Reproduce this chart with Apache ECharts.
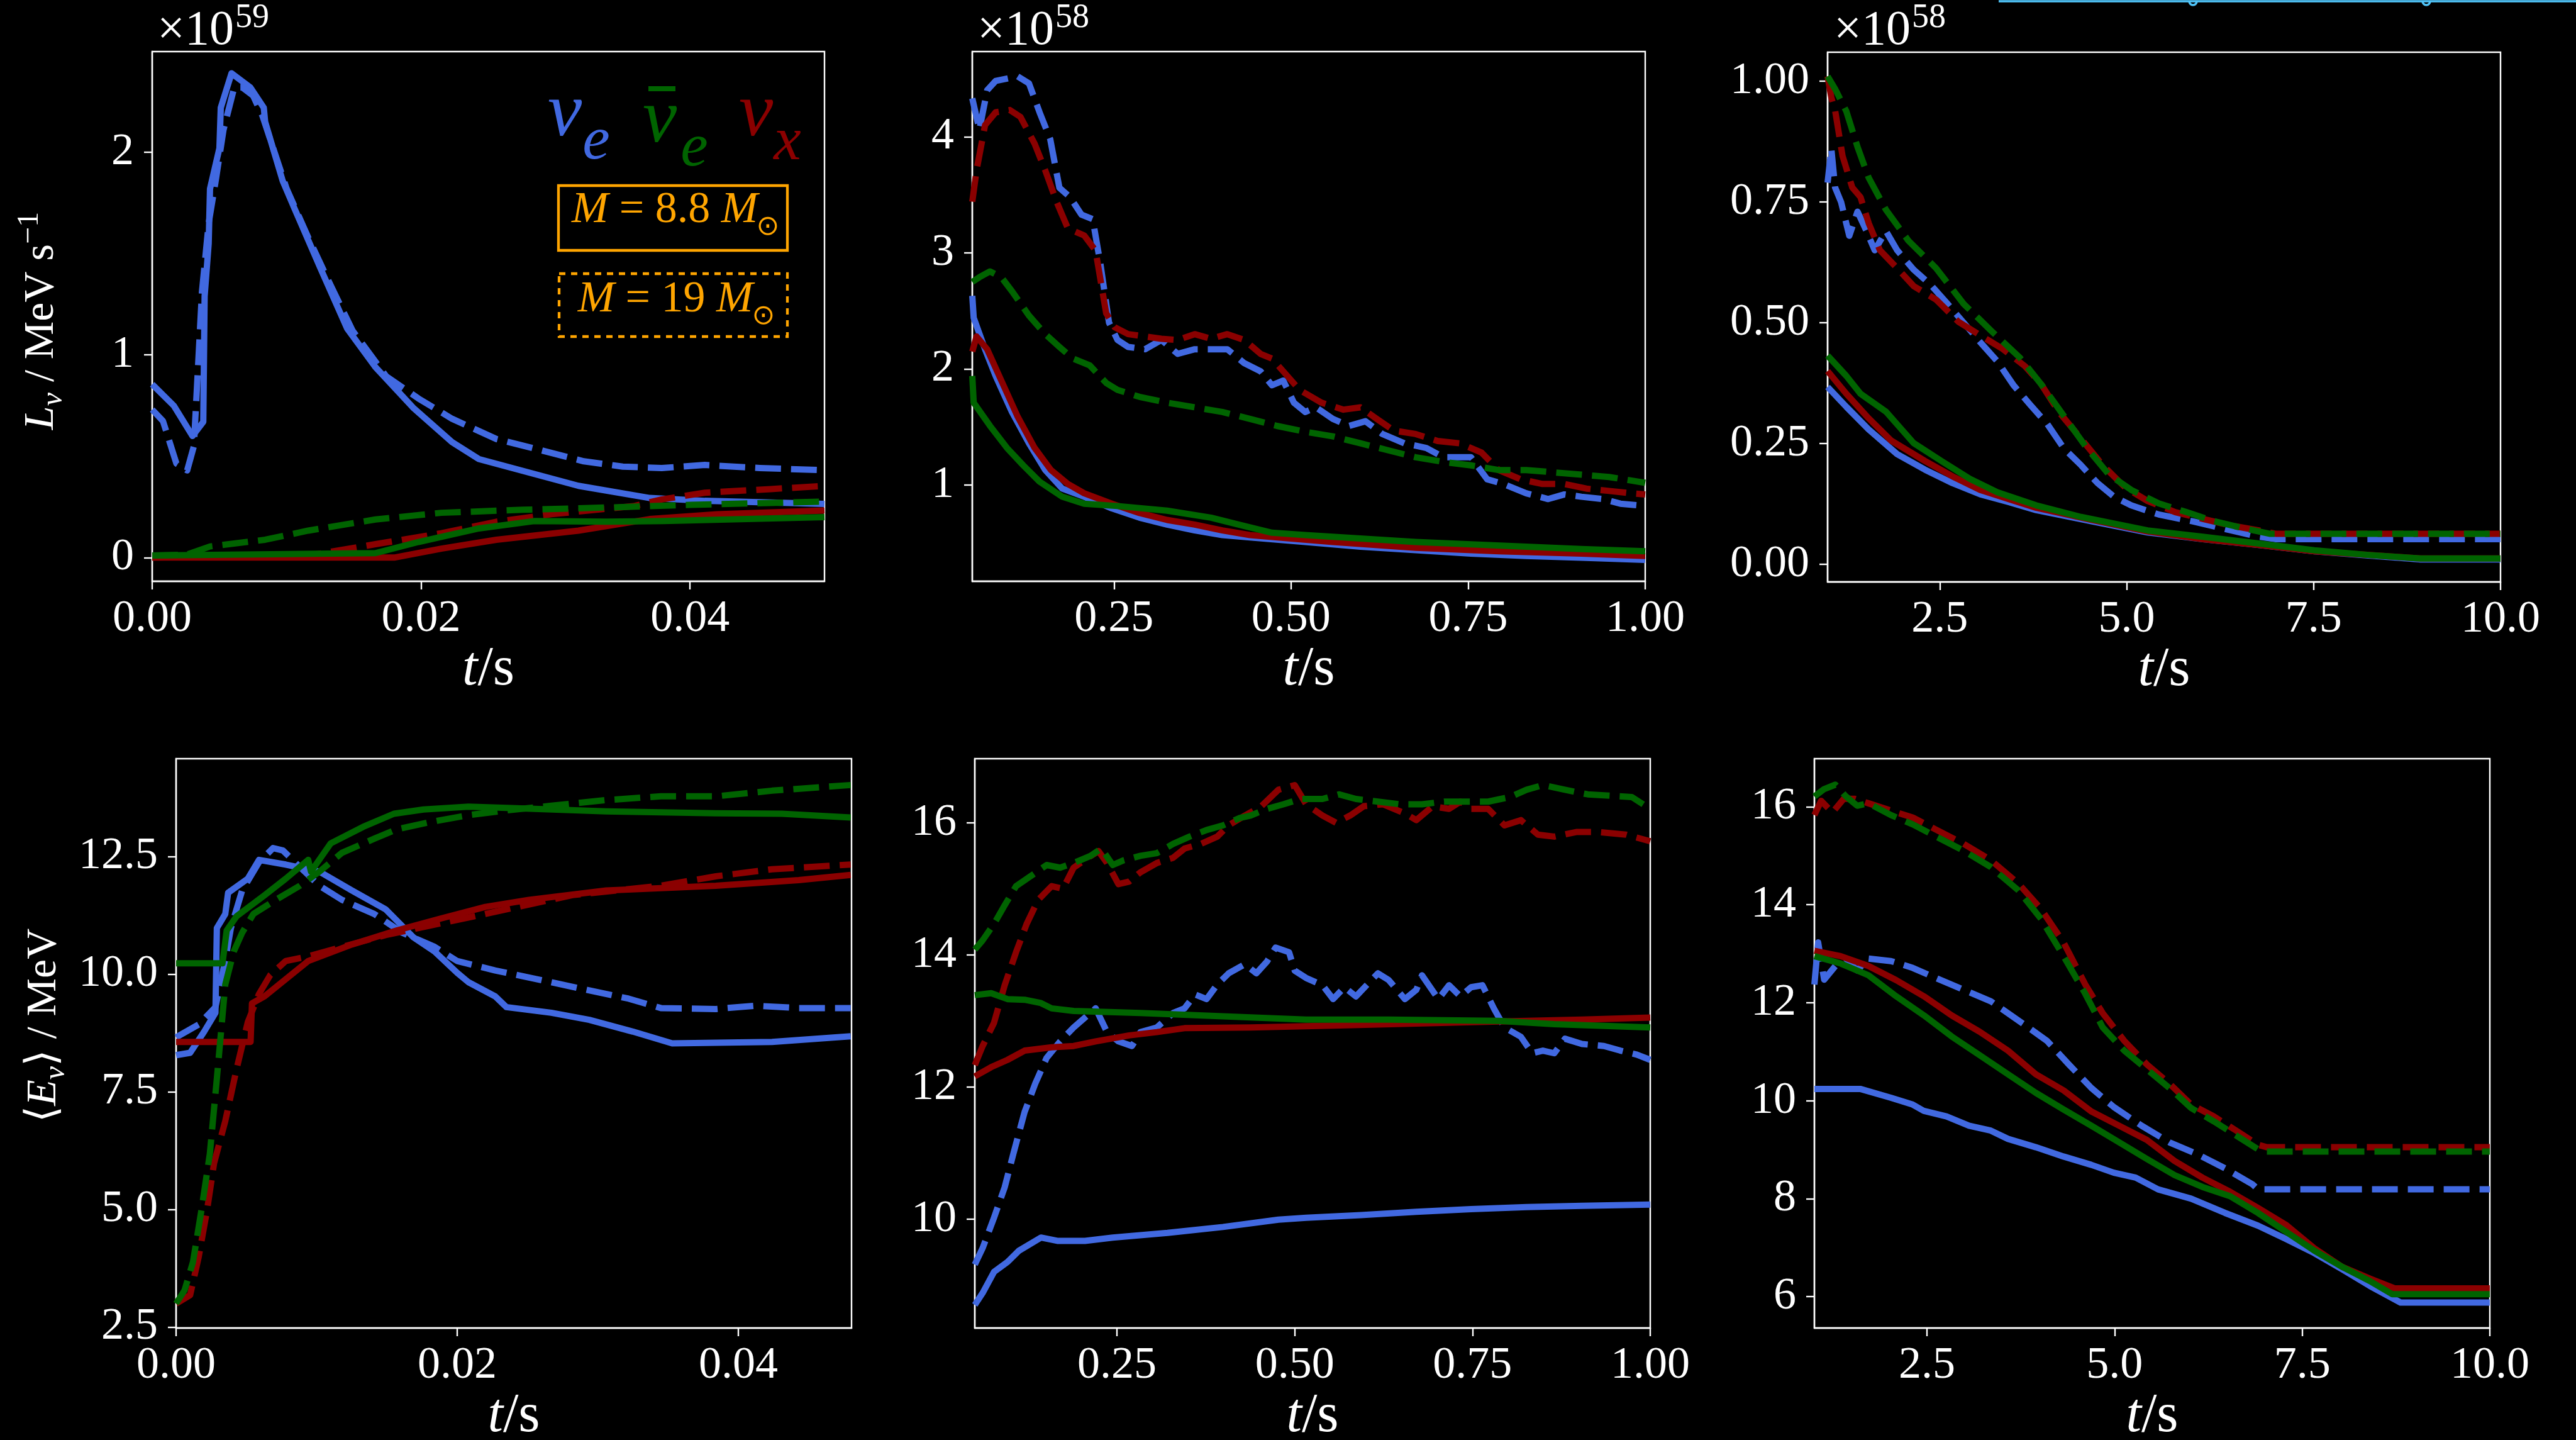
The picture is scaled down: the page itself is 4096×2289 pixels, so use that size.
<!DOCTYPE html>
<html>
<head>
<meta charset="utf-8">
<script src="https://cdn.jsdelivr.net/npm/echarts@6/dist/echarts.min.js"></script>
<style>
  html, body { margin: 0; padding: 0; background: #000; }
  #chart { width: 4096px; height: 2289px; }
</style>
</head>
<body>
<div id="chart"></div>
<script>
const FONT = '"Liberation Serif", "Times New Roman", Times, "DejaVu Serif", serif';
const COLORS = { nue: '#4169e1', anue: '#006400', nux: '#8b0000' };
const ORANGE = '#ffa500';

// tick values
const TICKS_T_EARLY = [0, 0.02, 0.04];
const TICKS_T_MID = [0.25, 0.5, 0.75, 1.0];
const TICKS_T_LATE = [2.5, 5.0, 7.5, 10.0];
const TICKS_LUM_A = [0, 1, 2];
const TICKS_LUM_B = [1, 2, 3, 4];
const TICKS_LUM_C = [0, 0.25, 0.5, 0.75, 1.0];
const TICKS_ENE_A = [2.5, 5.0, 7.5, 10.0, 12.5];
const TICKS_ENE_B = [10, 12, 14, 16];
const TICKS_ENE_C = [6, 8, 10, 12, 14, 16];
const OFFSET_EXP = ['59', '58', '58'];

// luminosity, 0 - 0.05 s (x 1e59 MeV/s); _88 = 8.8 Msun (solid), _19 = 19 Msun (dashed)
const lumA_nue_88 = [[0,0.855],[0.0016,0.75],[0.003,0.6],[0.0038,0.67],[0.0039,1.29],[0.0042,1.55],[0.0043,1.82],[0.005,2.02],[0.0051,2.22],[0.0059,2.39],[0.0073,2.32],[0.0083,2.22],[0.0084,2.15],[0.0097,1.86],[0.0106,1.72],[0.0125,1.43],[0.0145,1.13],[0.0166,0.94],[0.0194,0.74],[0.0223,0.57],[0.0243,0.486],[0.028,0.42],[0.0317,0.354],[0.037,0.294],[0.0411,0.28],[0.05,0.265]];
const lumA_nue_19 = [[0,0.73],[0.0008,0.674],[0.0018,0.464],[0.0026,0.43],[0.0031,0.55],[0.0037,1.31],[0.0042,1.65],[0.0047,1.85],[0.0053,2.11],[0.0061,2.32],[0.0067,2.32],[0.0075,2.28],[0.0082,2.18],[0.009,2.02],[0.01,1.82],[0.0116,1.58],[0.0133,1.34],[0.0149,1.12],[0.0174,0.895],[0.0198,0.785],[0.0223,0.685],[0.0256,0.585],[0.0289,0.53],[0.0321,0.475],[0.035,0.449],[0.0379,0.442],[0.0411,0.457],[0.0452,0.442],[0.05,0.431]];
const lumA_anue_88 = [[0,0.01],[0.0166,0.022],[0.0198,0.077],[0.0243,0.144],[0.0284,0.18],[0.0338,0.177],[0.038,0.18],[0.05,0.2]];
const lumA_anue_19 = [[0,0.01],[0.0026,0.015],[0.0043,0.055],[0.0084,0.088],[0.0116,0.133],[0.0166,0.188],[0.0215,0.221],[0.0276,0.236],[0.0338,0.247],[0.04,0.26],[0.05,0.276]];
const lumA_nux_88 = [[0,0],[0.018,0],[0.0215,0.044],[0.0256,0.088],[0.0317,0.133],[0.037,0.19],[0.042,0.214],[0.05,0.232]];
const lumA_nux_19 = [[0,0],[0.0116,0.01],[0.0166,0.066],[0.0215,0.12],[0.0256,0.177],[0.0297,0.214],[0.0358,0.254],[0.0379,0.287],[0.0411,0.32],[0.046,0.338],[0.05,0.354]];

// luminosity, 0.05 - 1 s (x 1e58 MeV/s)
const lumB_nue_88 = [[0.05,2.63],[0.052,2.44],[0.068,2.17],[0.083,1.94],[0.106,1.63],[0.13,1.36],[0.153,1.13],[0.177,0.97],[0.208,0.9],[0.247,0.8],[0.286,0.72],[0.325,0.66],[0.364,0.61],[0.403,0.57],[0.442,0.55],[0.52,0.51],[0.598,0.47],[0.676,0.44],[0.754,0.41],[0.832,0.39],[0.91,0.375],[1.0,0.356]];
const lumB_nue_19 = [[0.05,4.33],[0.06,4.06],[0.071,4.4],[0.083,4.48],[0.114,4.52],[0.13,4.46],[0.145,4.21],[0.16,3.98],[0.173,3.56],[0.188,3.48],[0.204,3.33],[0.22,3.29],[0.231,2.9],[0.243,2.4],[0.255,2.25],[0.27,2.19],[0.294,2.17],[0.317,2.25],[0.34,2.13],[0.364,2.17],[0.387,2.17],[0.41,2.17],[0.434,2.05],[0.457,1.98],[0.473,1.86],[0.489,1.9],[0.504,1.71],[0.52,1.63],[0.535,1.67],[0.559,1.57],[0.582,1.51],[0.605,1.55],[0.629,1.44],[0.66,1.36],[0.691,1.32],[0.715,1.24],[0.754,1.24],[0.777,1.05],[0.8,1.01],[0.832,0.93],[0.863,0.88],[0.886,0.92],[0.91,0.9],[0.941,0.88],[0.965,0.84],[1.0,0.82]];
const lumB_anue_88 = [[0.05,1.94],[0.052,1.71],[0.075,1.51],[0.099,1.32],[0.122,1.17],[0.145,1.03],[0.177,0.9],[0.208,0.84],[0.255,0.82],[0.325,0.78],[0.387,0.72],[0.426,0.66],[0.473,0.59],[0.52,0.57],[0.598,0.54],[0.676,0.51],[0.754,0.49],[0.832,0.47],[0.91,0.45],[1.0,0.43]];
const lumB_anue_19 = [[0.05,2.75],[0.06,2.79],[0.075,2.84],[0.091,2.79],[0.106,2.67],[0.13,2.46],[0.153,2.3],[0.173,2.19],[0.192,2.09],[0.216,2.03],[0.239,1.88],[0.255,1.82],[0.286,1.76],[0.325,1.71],[0.364,1.67],[0.403,1.63],[0.442,1.57],[0.48,1.51],[0.52,1.46],[0.559,1.42],[0.598,1.36],[0.637,1.3],[0.676,1.24],[0.715,1.2],[0.754,1.17],[0.793,1.13],[0.832,1.13],[0.871,1.11],[0.91,1.09],[0.949,1.07],[1.0,1.02]];
const lumB_nux_88 = [[0.05,2.15],[0.056,2.28],[0.071,2.17],[0.091,1.9],[0.114,1.59],[0.138,1.32],[0.161,1.13],[0.185,1.01],[0.208,0.93],[0.247,0.84],[0.286,0.76],[0.325,0.7],[0.364,0.66],[0.403,0.61],[0.442,0.57],[0.481,0.55],[0.559,0.51],[0.676,0.46],[0.793,0.43],[0.91,0.41],[1.0,0.39]];
const lumB_nux_19 = [[0.05,3.44],[0.056,3.71],[0.068,4.1],[0.083,4.21],[0.103,4.23],[0.118,4.17],[0.138,3.94],[0.153,3.71],[0.169,3.44],[0.185,3.21],[0.208,3.15],[0.224,3.02],[0.239,2.48],[0.251,2.36],[0.27,2.3],[0.294,2.28],[0.317,2.26],[0.34,2.25],[0.364,2.3],[0.387,2.26],[0.41,2.3],[0.434,2.25],[0.457,2.13],[0.473,2.09],[0.489,1.98],[0.512,1.82],[0.543,1.71],[0.574,1.65],[0.598,1.67],[0.621,1.57],[0.645,1.47],[0.676,1.44],[0.707,1.38],[0.738,1.36],[0.769,1.28],[0.793,1.13],[0.824,1.05],[0.855,1.01],[0.886,1.01],[0.917,0.97],[0.949,0.95],[0.98,0.93],[1.0,0.92]];

// luminosity, 1 - 10 s (x 1e58 MeV/s)
const lumC_nue_88 = [[1.0,0.367],[1.25,0.326],[1.55,0.279],[1.93,0.228],[2.3,0.196],[2.67,0.168],[3.04,0.145],[3.42,0.129],[3.79,0.112],[4.53,0.089],[5.28,0.066],[6.02,0.052],[6.77,0.04],[7.51,0.027],[8.26,0.018],[8.93,0.01],[10,0.01]];
const lumC_nue_19 = [[1.0,0.79],[1.05,0.86],[1.1,0.78],[1.18,0.75],[1.29,0.68],[1.4,0.73],[1.52,0.69],[1.63,0.65],[1.78,0.69],[1.93,0.65],[2.15,0.61],[2.37,0.58],[2.6,0.54],[2.82,0.5],[3.04,0.46],[3.27,0.42],[3.49,0.37],[3.71,0.33],[3.94,0.29],[4.16,0.24],[4.39,0.205],[4.61,0.168],[4.83,0.14],[5.06,0.122],[5.43,0.103],[5.88,0.089],[6.4,0.07],[6.77,0.057],[7.0,0.052],[10,0.052]];
const lumC_anue_88 = [[1.0,0.432],[1.25,0.39],[1.44,0.353],[1.78,0.316],[2.15,0.251],[2.52,0.214],[2.9,0.177],[3.27,0.149],[3.79,0.122],[4.39,0.098],[5.28,0.07],[6.02,0.057],[6.77,0.043],[7.51,0.029],[8.26,0.019],[8.93,0.012],[10,0.012]];
const lumC_anue_19 = [[1.0,1.01],[1.1,0.984],[1.25,0.938],[1.4,0.864],[1.55,0.8],[1.78,0.734],[2.08,0.67],[2.45,0.613],[2.82,0.539],[3.19,0.483],[3.57,0.428],[3.86,0.372],[4.16,0.307],[4.46,0.242],[4.76,0.186],[5.06,0.154],[5.43,0.126],[5.8,0.108],[6.17,0.089],[6.55,0.075],[6.92,0.063],[10,0.063]];
const lumC_nux_88 = [[1.0,0.4],[1.25,0.353],[1.55,0.302],[1.85,0.256],[2.3,0.214],[2.67,0.182],[3.04,0.154],[3.42,0.135],[3.79,0.117],[4.53,0.092],[5.28,0.068],[6.02,0.052],[6.77,0.04],[7.51,0.027],[8.93,0.012],[10,0.012]];
const lumC_nux_19 = [[1.0,1.01],[1.05,0.966],[1.1,0.94],[1.2,0.845],[1.33,0.78],[1.44,0.76],[1.55,0.706],[1.7,0.65],[1.93,0.613],[2.15,0.576],[2.45,0.548],[2.75,0.502],[3.04,0.474],[3.34,0.446],[3.64,0.41],[3.86,0.372],[4.09,0.316],[4.39,0.26],[4.68,0.205],[4.98,0.159],[5.28,0.131],[5.65,0.108],[6.02,0.094],[6.4,0.08],[6.77,0.07],[7.0,0.063],[10,0.063]];

// mean energy, 0 - 0.048 s (MeV)
const eneA_nue_88 = [[0,8.28],[0.001,8.33],[0.002,8.78],[0.0028,9.18],[0.0029,10.98],[0.0035,11.28],[0.0037,11.73],[0.0051,12.03],[0.0059,12.43],[0.0078,12.33],[0.0102,12.18],[0.0125,11.78],[0.0149,11.38],[0.0169,10.78],[0.0184,10.48],[0.02,10.03],[0.0208,9.83],[0.0227,9.53],[0.0235,9.3],[0.0267,9.18],[0.0294,9.03],[0.0325,8.78],[0.0353,8.53],[0.0424,8.56],[0.048,8.68]];
const eneA_nue_19 = [[0,8.66],[0.0016,8.93],[0.0028,9.3],[0.0035,10.3],[0.0039,10.98],[0.0047,11.78],[0.0059,12.38],[0.0069,12.68],[0.0076,12.63],[0.0088,12.28],[0.0102,11.88],[0.0118,11.58],[0.0141,11.28],[0.0161,10.88],[0.0184,10.58],[0.02,10.28],[0.0227,10.08],[0.0259,9.88],[0.029,9.68],[0.0322,9.48],[0.0345,9.28],[0.0384,9.26],[0.0412,9.33],[0.0443,9.28],[0.048,9.28]];
const eneA_anue_88 = [[0,10.23],[0.0033,10.23],[0.0036,10.93],[0.0043,11.23],[0.0063,11.68],[0.0078,12.03],[0.0094,12.43],[0.0096,12.18],[0.011,12.78],[0.0133,13.13],[0.0155,13.41],[0.0176,13.5],[0.0208,13.56],[0.0239,13.53],[0.0306,13.46],[0.0384,13.42],[0.0431,13.41],[0.048,13.33]];
const eneA_anue_19 = [[0,3.0],[0.0006,3.28],[0.0012,3.88],[0.0018,4.98],[0.0024,6.18],[0.0029,7.78],[0.0035,9.78],[0.0041,10.48],[0.0047,10.88],[0.0055,11.28],[0.0071,11.58],[0.0088,11.88],[0.0102,12.18],[0.0118,12.58],[0.0141,12.88],[0.0157,13.08],[0.018,13.23],[0.0208,13.38],[0.0235,13.48],[0.0267,13.58],[0.0306,13.7],[0.0345,13.78],[0.0384,13.78],[0.0424,13.9],[0.048,14.02]];
const eneA_nux_88 = [[0,8.56],[0.0053,8.56],[0.0054,9.38],[0.0063,9.53],[0.0094,10.28],[0.0125,10.63],[0.0157,10.93],[0.0188,11.18],[0.022,11.43],[0.0251,11.58],[0.0306,11.78],[0.0384,11.88],[0.0443,12.0],[0.048,12.11]];
const eneA_nux_19 = [[0,3.0],[0.001,3.18],[0.0016,3.98],[0.0022,4.98],[0.0027,5.98],[0.0035,6.88],[0.0043,7.98],[0.0051,8.98],[0.0059,9.58],[0.0067,9.98],[0.0078,10.28],[0.0094,10.38],[0.0118,10.58],[0.0149,10.83],[0.018,11.03],[0.0212,11.23],[0.0243,11.43],[0.0282,11.68],[0.0345,11.88],[0.0384,12.08],[0.0424,12.23],[0.048,12.33]];

// mean energy, 0.05 - 1 s (MeV)
const eneB_nue_88 = [[0.05,8.7],[0.061,8.88],[0.077,9.2],[0.096,9.35],[0.112,9.52],[0.143,9.72],[0.166,9.67],[0.205,9.67],[0.244,9.72],[0.321,9.79],[0.399,9.88],[0.477,9.99],[0.516,10.02],[0.593,10.06],[0.671,10.11],[0.748,10.15],[0.826,10.18],[0.904,10.2],[1.0,10.22]];
const eneB_nue_19 = [[0.05,9.31],[0.061,9.56],[0.077,10.02],[0.092,10.48],[0.104,10.98],[0.12,11.62],[0.135,12.05],[0.151,12.44],[0.17,12.69],[0.189,12.9],[0.205,13.05],[0.22,13.19],[0.236,12.83],[0.252,12.69],[0.271,12.62],[0.283,12.83],[0.306,12.9],[0.329,13.12],[0.345,13.19],[0.36,13.4],[0.376,13.33],[0.391,13.55],[0.407,13.72],[0.43,13.86],[0.446,13.72],[0.461,13.9],[0.473,14.11],[0.492,14.04],[0.5,13.76],[0.516,13.65],[0.539,13.54],[0.554,13.33],[0.57,13.51],[0.586,13.37],[0.601,13.54],[0.617,13.72],[0.632,13.62],[0.655,13.33],[0.671,13.47],[0.679,13.69],[0.702,13.33],[0.717,13.54],[0.733,13.37],[0.748,13.51],[0.764,13.54],[0.78,13.19],[0.795,12.9],[0.818,12.76],[0.834,12.51],[0.849,12.55],[0.865,12.51],[0.88,12.73],[0.904,12.65],[0.935,12.62],[0.958,12.55],[0.981,12.49],[1.0,12.41]];
const eneB_anue_88 = [[0.05,13.39],[0.073,13.42],[0.096,13.33],[0.12,13.32],[0.143,13.27],[0.158,13.19],[0.189,13.15],[0.283,13.12],[0.399,13.07],[0.516,13.02],[0.632,13.02],[0.787,13.0],[0.865,12.95],[1.0,12.9]];
const eneB_anue_19 = [[0.05,14.08],[0.061,14.22],[0.077,14.47],[0.092,14.75],[0.108,15.04],[0.127,15.18],[0.151,15.36],[0.17,15.32],[0.189,15.39],[0.213,15.5],[0.228,15.61],[0.244,15.36],[0.259,15.43],[0.283,15.5],[0.306,15.54],[0.329,15.68],[0.352,15.79],[0.376,15.89],[0.399,15.96],[0.422,16.07],[0.438,16.11],[0.461,16.21],[0.484,16.28],[0.508,16.36],[0.539,16.36],[0.562,16.43],[0.586,16.36],[0.617,16.32],[0.648,16.28],[0.679,16.28],[0.71,16.32],[0.741,16.32],[0.772,16.32],[0.803,16.39],[0.826,16.5],[0.849,16.57],[0.88,16.5],[0.912,16.43],[0.943,16.41],[0.974,16.39],[1.0,16.21]];
const eneB_nux_88 = [[0.05,12.16],[0.073,12.3],[0.096,12.41],[0.12,12.55],[0.158,12.6],[0.189,12.62],[0.22,12.69],[0.267,12.78],[0.306,12.83],[0.345,12.89],[0.438,12.9],[0.554,12.93],[0.671,12.96],[0.787,12.99],[0.904,13.02],[1.0,13.05]];
const eneB_nux_19 = [[0.05,12.33],[0.061,12.62],[0.077,12.97],[0.092,13.54],[0.108,14.04],[0.123,14.47],[0.139,14.83],[0.158,15.04],[0.174,15.0],[0.189,15.32],[0.209,15.47],[0.224,15.57],[0.236,15.39],[0.252,15.07],[0.267,15.11],[0.283,15.25],[0.306,15.39],[0.329,15.47],[0.345,15.61],[0.368,15.68],[0.391,15.79],[0.407,15.96],[0.43,16.11],[0.453,16.25],[0.477,16.5],[0.5,16.57],[0.516,16.28],[0.539,16.11],[0.558,16.0],[0.578,16.11],[0.597,16.25],[0.624,16.28],[0.655,16.14],[0.671,16.04],[0.694,16.25],[0.717,16.21],[0.733,16.32],[0.748,16.21],[0.772,16.21],[0.795,15.96],[0.818,16.04],[0.842,15.82],[0.865,15.79],[0.896,15.86],[0.927,15.86],[0.966,15.82],[1.0,15.72]];

// mean energy, 1 - 10 s (MeV)
const eneC_nue_88 = [[1.0,10.24],[1.61,10.24],[2.02,10.06],[2.31,9.92],[2.46,9.79],[2.76,9.68],[3.06,9.49],[3.35,9.39],[3.58,9.22],[3.95,9.05],[4.32,8.86],[4.69,8.69],[4.99,8.53],[5.28,8.43],[5.58,8.19],[6.02,8.0],[6.47,7.71],[6.91,7.45],[7.28,7.18],[7.66,6.89],[8.03,6.56],[8.4,6.22],[8.81,5.88],[10,5.88]];
const eneC_nue_19 = [[1.0,12.37],[1.05,13.23],[1.13,12.47],[1.28,12.75],[1.42,12.9],[1.57,12.66],[1.72,12.9],[2.02,12.85],[2.31,12.71],[2.61,12.51],[2.98,12.27],[3.35,12.03],[3.8,11.55],[4.1,11.22],[4.39,10.74],[4.69,10.26],[4.99,9.87],[5.36,9.49],[5.73,9.15],[6.1,8.91],[6.47,8.62],[6.84,8.29],[6.91,8.19],[10,8.19]];
const eneC_anue_88 = [[1.0,12.95],[1.35,12.8],[1.72,12.56],[2.09,12.13],[2.46,11.74],[2.83,11.31],[3.2,10.93],[3.58,10.54],[3.95,10.16],[4.32,9.82],[4.69,9.49],[5.06,9.15],[5.43,8.81],[5.8,8.48],[6.17,8.24],[6.54,8.05],[6.91,7.71],[7.28,7.33],[7.66,6.94],[8.03,6.61],[8.4,6.32],[8.7,6.05],[10,6.05]];
const eneC_anue_19 = [[1.0,16.21],[1.13,16.36],[1.28,16.45],[1.42,16.21],[1.57,16.02],[1.72,16.07],[2.02,15.83],[2.31,15.64],[2.61,15.4],[2.98,15.11],[3.35,14.77],[3.72,14.29],[4.02,13.71],[4.32,12.95],[4.61,12.18],[4.84,11.5],[5.13,11.02],[5.43,10.64],[5.73,10.26],[6.02,9.85],[6.32,9.58],[6.62,9.29],[6.91,9.01],[6.99,8.96],[10,8.96]];
const eneC_nux_88 = [[1.0,13.06],[1.35,12.95],[1.72,12.75],[2.09,12.46],[2.46,12.13],[2.83,11.74],[3.2,11.41],[3.58,11.02],[3.95,10.54],[4.32,10.21],[4.69,9.78],[5.06,9.49],[5.43,9.2],[5.8,8.77],[6.17,8.43],[6.54,8.14],[6.91,7.81],[7.28,7.47],[7.66,6.99],[8.03,6.61],[8.4,6.37],[8.73,6.17],[10,6.17]];
const eneC_nux_19 = [[1.0,15.83],[1.09,16.12],[1.24,15.88],[1.39,16.16],[1.54,16.16],[1.72,16.07],[2.02,15.92],[2.31,15.78],[2.61,15.54],[2.98,15.25],[3.35,14.91],[3.72,14.43],[4.02,13.91],[4.32,13.23],[4.61,12.37],[4.84,11.79],[5.13,11.22],[5.43,10.74],[5.73,10.35],[6.02,9.92],[6.32,9.68],[6.62,9.39],[6.91,9.1],[7.03,9.05],[10,9.05]];

// panel layout (px in the 4096x2289 canvas)
const panels = [
  { box: { left: 242, top: 82, width: 1069, height: 842 }, x: [0, 0.05], y: [-0.117, 2.497], xt: TICKS_T_EARLY, xd: 2, yt: TICKS_LUM_A, yd: 0,
    lines: { nue: [lumA_nue_88, lumA_nue_19], nux: [lumA_nux_88, lumA_nux_19], anue: [lumA_anue_88, lumA_anue_19] } },
  { box: { left: 1546, top: 82, width: 1070, height: 842 }, x: [0.05, 1.0], y: [0.172, 4.733], xt: TICKS_T_MID, xd: 2, yt: TICKS_LUM_B, yd: 0,
    lines: { nue: [lumB_nue_88, lumB_nue_19], nux: [lumB_nux_88, lumB_nux_19], anue: [lumB_anue_88, lumB_anue_19] } },
  { box: { left: 2906, top: 83, width: 1070, height: 842 }, x: [1, 10], y: [-0.0365, 1.06], xt: TICKS_T_LATE, xd: 1, yt: TICKS_LUM_C, yd: 2,
    lines: { nue: [lumC_nue_88, lumC_nue_19], nux: [lumC_nux_88, lumC_nux_19], anue: [lumC_anue_88, lumC_anue_19] } },
  { box: { left: 280, top: 1206, width: 1074, height: 905 }, x: [0, 0.04806], y: [2.48, 14.58], xt: TICKS_T_EARLY, xd: 2, yt: TICKS_ENE_A, yd: 1,
    lines: { nue: [eneA_nue_88, eneA_nue_19], nux: [eneA_nux_88, eneA_nux_19], anue: [eneA_anue_88, eneA_anue_19] } },
  { box: { left: 1550, top: 1206, width: 1074, height: 905 }, x: [0.05, 1.0], y: [8.35, 16.97], xt: TICKS_T_MID, xd: 2, yt: TICKS_ENE_B, yd: 0,
    lines: { nue: [eneB_nue_88, eneB_nue_19], nux: [eneB_nux_88, eneB_nux_19], anue: [eneB_anue_88, eneB_anue_19] } },
  { box: { left: 2885, top: 1206, width: 1074, height: 905 }, x: [1, 10], y: [5.36, 16.98], xt: TICKS_T_LATE, xd: 1, yt: TICKS_ENE_C, yd: 0,
    lines: { nue: [eneC_nue_88, eneC_nue_19], nux: [eneC_nux_88, eneC_nux_19], anue: [eneC_anue_88, eneC_anue_19] } },
];

const LW = 10;
const DASH = [41, 16];
const AX = { color: '#fff', width: 2.4 };

const series = [];
panels.forEach((p, i) => {
  ['nue', 'nux', 'anue'].forEach(fl => {
    p.lines[fl].forEach((data, k) => {
      series.push({
        type: 'line', xAxisIndex: i, yAxisIndex: i, data: data,
        showSymbol: false, symbol: 'none', silent: true, clip: true,
        lineStyle: { color: COLORS[fl], width: LW, type: k === 0 ? 'solid' : DASH, join: 'round', cap: 'butt' },
      });
    });
  });
});

const nameRich = {
  i: { fontFamily: FONT, fontStyle: 'italic', fontSize: 88, color: '#fff' },
  m: { fontFamily: FONT, fontSize: 88, color: '#fff' },
};

const graphic = [];
// offset texts (x 10^N)
[[250, 50], [1554, 50], [2916, 50]].forEach((pos, i) => {
  graphic.push({ type: 'text', x: pos[0], y: pos[1], silent: true,
    style: { text: '×10', fontFamily: FONT, fontSize: 78, fill: '#fff', align: 'left', verticalAlign: 'middle' } });
  graphic.push({ type: 'text', x: pos[0] + 124, y: pos[1] - 21, silent: true,
    style: { text: OFFSET_EXP[i], fontFamily: FONT, fontSize: 54, fill: '#fff', align: 'left', verticalAlign: 'middle' } });
});

// y axis labels
const ylabRich = {
  i: { fontFamily: FONT, fontStyle: 'italic', fontSize: 68, lineHeight: 86, verticalAlign: 'middle', fill: '#fff' },
  m: { fontFamily: FONT, fontSize: 68, lineHeight: 86, verticalAlign: 'middle', fill: '#fff' },
  sb: { fontFamily: FONT, fontStyle: 'italic', fontSize: 48, lineHeight: 48, verticalAlign: 'bottom', fill: '#fff' },
  sp: { fontFamily: FONT, fontSize: 48, lineHeight: 48, verticalAlign: 'top', fill: '#fff' },
};
graphic.push({ type: 'text', x: 66, y: 510, rotation: Math.PI / 2, silent: true,
  style: { text: '{i|L}{sb|ν}{m| / MeV s}{sp|−1}', align: 'center', verticalAlign: 'middle', rich: ylabRich } });
graphic.push({ type: 'text', x: 70, y: 1630, rotation: Math.PI / 2, silent: true,
  style: { text: '{m|⟨}{i|E}{sb|ν}{m|⟩ / MeV}', align: 'center', verticalAlign: 'middle', rich: ylabRich } });

// flavour legend
const legendGlyphs = [
  { t: 'ν', x: 898, y: 183, s: 122, c: COLORS.nue },
  { t: 'e', x: 948, y: 226, s: 98, c: COLORS.nue },
  { t: 'ν', x: 1049, y: 193, s: 122, c: COLORS.anue },
  { t: 'e', x: 1104, y: 237, s: 98, c: COLORS.anue },
  { t: 'ν', x: 1202, y: 183, s: 122, c: COLORS.nux },
  { t: 'x', x: 1252, y: 227, s: 98, c: COLORS.nux },
];
legendGlyphs.forEach(g => graphic.push({ type: 'text', x: g.x, y: g.y, silent: true,
  style: { text: g.t, fontFamily: FONT, fontStyle: 'italic', fontSize: g.s, fill: g.c, align: 'center', verticalAlign: 'middle' } }));
graphic.push({ type: 'rect', silent: true, shape: { x: 1031, y: 137, width: 43, height: 8 }, style: { fill: COLORS.anue } });

// mass boxes
graphic.push({ type: 'rect', silent: true, shape: { x: 888, y: 295, width: 364, height: 103 },
  style: { fill: 'none', stroke: ORANGE, lineWidth: 4.3 } });
graphic.push({ type: 'rect', silent: true, shape: { x: 889, y: 435, width: 363, height: 100 },
  style: { fill: 'none', stroke: ORANGE, lineWidth: 4.3, lineDash: [10, 9] } });
const massRich = {
  i: { fontFamily: FONT, fontStyle: 'italic', fontSize: 70, fill: ORANGE },
  m: { fontFamily: FONT, fontSize: 70, fill: ORANGE },
};
graphic.push({ type: 'text', x: 1057, y: 335, silent: true,
  style: { text: '{i|M}{m| = 8.8 }{i|M}', align: 'center', verticalAlign: 'middle', rich: massRich } });
graphic.push({ type: 'text', x: 1221, y: 362, silent: true,
  style: { text: '⊙', fontFamily: '"DejaVu Sans"', fontSize: 44, fill: ORANGE, align: 'center', verticalAlign: 'middle' } });
graphic.push({ type: 'text', x: 1058, y: 477, silent: true,
  style: { text: '{i|M}{m| = 19 }{i|M}', align: 'center', verticalAlign: 'middle', rich: massRich } });
graphic.push({ type: 'text', x: 1214, y: 504, silent: true,
  style: { text: '⊙', fontFamily: '"DejaVu Sans"', fontSize: 44, fill: ORANGE, align: 'center', verticalAlign: 'middle' } });

// cut-off element at the top right edge
graphic.push({ type: 'line', silent: true, shape: { x1: 3178, y1: 2, x2: 4096, y2: 2 }, style: { stroke: '#4fc3f7', lineWidth: 3.5 } });
[3487, 3858].forEach(cx => graphic.push({ type: 'arc', silent: true,
  shape: { cx: cx, cy: 2, r: 6, startAngle: 0, endAngle: Math.PI }, style: { fill: 'none', stroke: '#4fc3f7', lineWidth: 3.5 } }));

const option = {
  backgroundColor: '#000',
  animation: false,
  textStyle: { fontFamily: FONT, color: '#fff' },
  grid: panels.map(p => Object.assign({}, p.box, {
    show: true, borderColor: '#fff', borderWidth: 2.4, backgroundColor: 'transparent',
    containLabel: false, outerBoundsMode: 'none',
  })),
  xAxis: panels.map((p, i) => ({
    type: 'value', gridIndex: i, min: p.x[0], max: p.x[1],
    axisLine: { show: true, onZero: false, lineStyle: AX },
    axisTick: { show: true, inside: false, length: 13, customValues: p.xt, lineStyle: AX },
    axisLabel: { show: true, customValues: p.xt, formatter: v => Number(v).toFixed(p.xd),
      color: '#fff', fontFamily: FONT, fontSize: 72, margin: 24 },
    splitLine: { show: false },
    name: '{i|t}{m|/s}', nameLocation: 'middle', nameGap: 95,
    nameTextStyle: { rich: nameRich },
  })),
  yAxis: panels.map((p, i) => ({
    type: 'value', gridIndex: i, min: p.y[0], max: p.y[1],
    axisLine: { show: true, onZero: false, lineStyle: AX },
    axisTick: { show: true, inside: false, length: 13, customValues: p.yt, lineStyle: AX },
    axisLabel: { show: true, customValues: p.yt, formatter: v => Number(v).toFixed(p.yd),
      color: '#fff', fontFamily: FONT, fontSize: 72, margin: 29 },
    splitLine: { show: false },
  })),
  series: series,
  graphic: { elements: graphic },
};

const chart = echarts.init(document.getElementById('chart'));
chart.setOption(option);
window.addEventListener('resize', () => chart.resize());
</script>
</body>
</html>
